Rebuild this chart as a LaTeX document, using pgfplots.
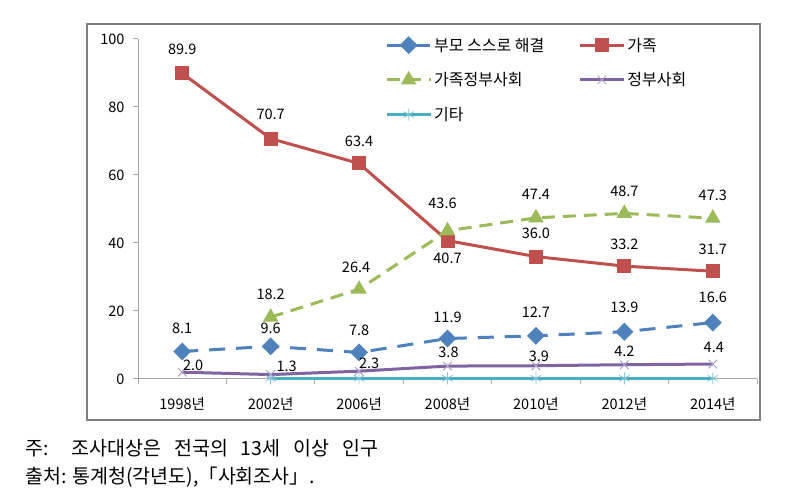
\documentclass[border=0pt]{standalone}
\usepackage{fontspec}
\setmainfont{Noto Sans CJK KR}
\usepackage{pgfplots}
\pgfplotsset{compat=1.18}
\usepackage{pgfplotstable}
\definecolor{cblue}{HTML}{4F81BD}
\definecolor{cred}{HTML}{C0504D}
\definecolor{cgreen}{HTML}{9BBB59}
\definecolor{cpurple}{HTML}{8064A2}
\definecolor{cpurplelt}{HTML}{B3A2C7}
\definecolor{ccyan}{HTML}{4BACC6}
\definecolor{axgray}{HTML}{A6A6A6}
\definecolor{framegray}{HTML}{7F7F7F}

\pgfplotstableread{
x y dx dy
0 8.1 0 23
1 9.6 0 18
2 7.8 0 22
3 11.9 0 21
4 12.7 0 23
5 13.9 0 24
6 16.6 0 25
}\tblblue
\pgfplotstableread{
x y dx dy
0 89.9 0 24
1 70.7 0 24
2 63.4 0 22
3 40.7 0 -18
4 36.0 0 23
5 33.2 0 22
6 31.7 0 22
}\tblred
\pgfplotstableread{
x y dx dy
1 18.2 0 23
2 26.4 -3 22
3 43.6 -5 27
4 47.4 0 23
5 48.7 0 22
6 47.3 0 23
}\tblgreen
\pgfplotstableread{
x y dx dy
0 2.0 11 7
1 1.3 16 8
2 2.3 10 8
3 3.8 1 14
4 3.9 3 9
5 4.2 0 13
6 4.4 1 17
}\tblpurple
\pgfplotstableread{
x y
1 0.2
2 0.2
3 0.2
4 0.2
5 0.2
6 0.2
}\tblcyan

\begin{document}
\begin{tikzpicture}[x=1pt,y=1pt]
\path[fill=white] (0,0) rectangle (802,497);
\draw[framegray, line width=1.5pt] (87,77) rectangle (760,473);
\begin{axis}[
  at={(138pt,118pt)}, anchor=south west,
  scale only axis, width=619pt, height=340pt,
  xmin=-0.5, xmax=6.5, ymin=0, ymax=100,
  axis lines*=left,
  axis line style={axgray, line width=1pt},
  xtick={0,...,6},
  xticklabels={1998년,2002년,2006년,2008년,2010년,2012년,2014년},
  minor xtick={-0.5,0.5,...,6.5},
  ytick={0,20,...,100},
  tick align=outside,
  major tick length=5pt, minor tick length=5pt,
  every major x tick/.style={draw=none},
  every tick/.style={axgray, line width=1pt},
  ticklabel style={font=\fontsize{14.5}{16}\selectfont, black},
  xticklabel style={yshift=-10pt},
  yticklabel style={xshift=-5pt},
  /pgf/number format/assume math mode=true,
  clip=false,
  legend columns=2,
  legend cell align=left,
  legend style={draw=none, fill=none, at={(0.399,1.01)}, anchor=north west,
    font=\fontsize{16}{18}\selectfont, row sep=16pt, inner sep=0pt,
    /tikz/every even column/.append style={column sep=32pt}},
  legend image code/.code={\draw[mark repeat=2,mark phase=2,#1] plot coordinates {(0pt,0pt) (22pt,0pt) (44pt,0pt)};},
  lbl/.style={
    nodes near coords={\pgfmathprintnumber[fixed,fixed zerofill,precision=1]{\pgfplotspointmeta}},
    point meta=y,
    visualization depends on={\thisrow{dx}\as\lblx},
    visualization depends on={\thisrow{dy}\as\lbly},
    every node near coord/.append style={font=\fontsize{14.5}{16}\selectfont, anchor=center, inner sep=0pt, xshift=\lblx pt, yshift=\lbly pt, text=black}},
]
\addplot[cblue, line width=3pt, dash pattern=on 16pt off 11pt, mark=square*, mark size=4.8pt, mark options={solid, rotate=45, fill=cblue}, lbl] table[x=x,y=y] {\tblblue};
\addlegendentry{부모 스스로 해결}
\addplot[cred, line width=3pt, mark=square*, mark size=5.5pt, mark options={solid, fill=cred}, lbl] table[x=x,y=y] {\tblred};
\addlegendentry{가족}
\addplot[cgreen, line width=3pt, dash pattern=on 13pt off 8pt, mark=triangle*, mark size=6pt, mark options={solid, fill=cgreen}, lbl] table[x=x,y=y] {\tblgreen};
\addlegendentry{가족정부사회}
\addplot[cpurple, line width=3pt, mark=x, mark size=6pt, mark options={solid, cpurplelt, line width=1pt}, lbl] table[x=x,y=y] {\tblpurple};
\addlegendentry{정부사회}
\addplot[ccyan, line width=3pt, mark=asterisk, mark size=6pt, mark options={solid, ccyan!70, line width=0.8pt}] table[x=x,y=y] {\tblcyan};
\addlegendentry{기타}
\end{axis}
\node[anchor=west, inner sep=0pt, font=\fontsize{19.5}{22}\selectfont] at (25,49) {\makebox[353pt][s]{주: 조사대상은 전국의 13세 이상 인구}};
\node[anchor=west, inner sep=0pt, font=\fontsize{19.5}{22}\selectfont] at (25,20) {출처: 통계청(각년도),「사회조사」.};
\end{tikzpicture}
\end{document}
